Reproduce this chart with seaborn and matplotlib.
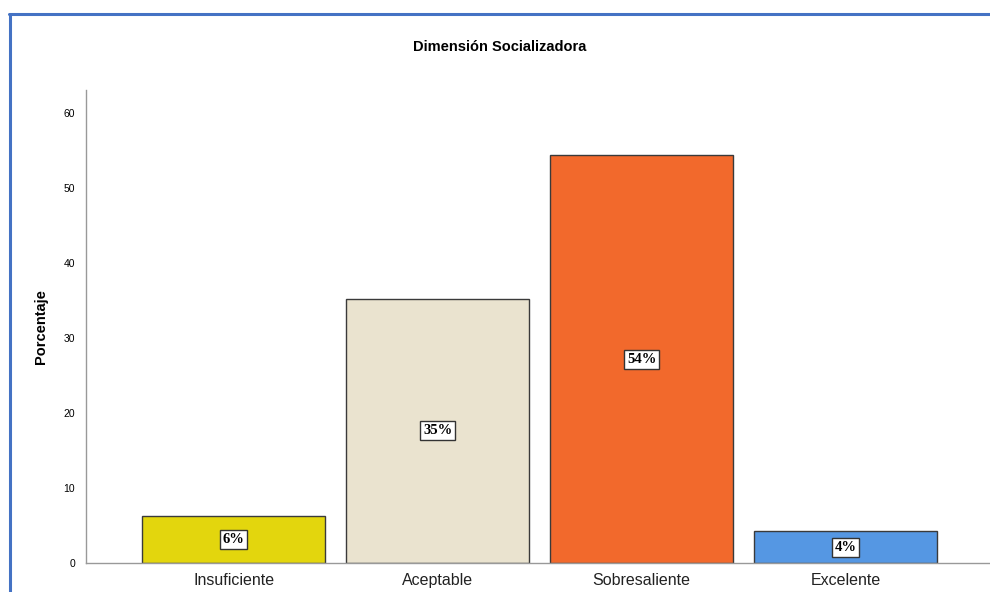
import matplotlib
matplotlib.use("Agg")
import matplotlib.pyplot as plt
import seaborn as sns
import pandas as pd
from matplotlib.lines import Line2D

# Datos
categorias = ["Insuficiente", "Aceptable", "Sobresaliente", "Excelente"]
porcentajes = [6.3, 35.2, 54.3, 4.2]
etiquetas = ["6%", "35%", "54%", "4%"]
colores = ["#E3D60D", "#EAE3CF", "#F2692C", "#5597E3"]

df = pd.DataFrame({"categoria": categorias, "porcentaje": porcentajes})

sns.set_style("white")
plt.rcParams["font.family"] = ["Liberation Sans", "DejaVu Sans"]
plt.rcParams["text.color"] = "black"

fig = plt.figure(figsize=(9.9, 5.92), dpi=100)
ax = fig.add_axes([0.087, 0.049, 0.916, 0.799])

sns.barplot(data=df, x="categoria", y="porcentaje", hue="categoria",
            palette=dict(zip(categorias, colores)), legend=False, saturation=1,
            width=0.897, edgecolor="#3a3a3a", linewidth=1.0, ax=ax)

for i, (v, t) in enumerate(zip(porcentajes, etiquetas)):
    ax.text(i, v / 2, t, ha="center", va="center", fontsize=10.5,
            fontweight="bold", family="Liberation Serif", color="black",
            bbox=dict(boxstyle="square,pad=0.2", fc="white", ec="#333333", lw=1))

ax.set_xlim(-0.723, 3.723)
ax.set_ylim(0, 63)
ax.set_yticks([0, 10, 20, 30, 40, 50, 60])
ax.tick_params(axis="y", labelsize=7.5, length=0, pad=8, colors="black")
ax.tick_params(axis="x", labelsize=11.5, length=0, pad=7, colors="#222222")
ax.set_xlabel("")
ax.set_ylabel("Porcentaje", fontsize=10.5, fontweight="bold", color="black")
ax.yaxis.set_label_coords(-0.042, 0.5)

for s in ["top", "right"]:
    ax.spines[s].set_visible(False)
for s in ["left", "bottom"]:
    ax.spines[s].set_color("#999999")
    ax.spines[s].set_linewidth(1)

fig.text(0.505, 0.921, "Dimensión Socializadora", ha="center", va="center",
         fontsize=10.5, fontweight="bold", color="black")

# Marco azul
fig.add_artist(Line2D([0.0105, 0.0105], [0, 0.977], color="#4472C4", lw=2.2,
                      transform=fig.transFigure))
fig.add_artist(Line2D([0.0095, 1.0], [0.977, 0.977], color="#4472C4", lw=2.2,
                      transform=fig.transFigure))

fig.savefig("out.png", dpi=100)
